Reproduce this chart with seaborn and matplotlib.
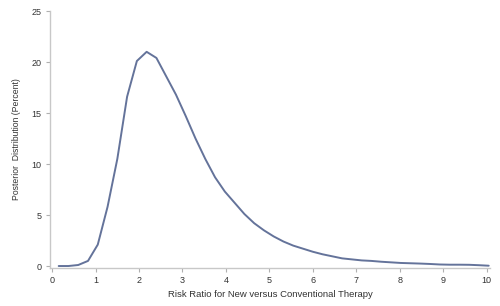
import matplotlib
matplotlib.use("Agg")
import matplotlib.pyplot as plt
import seaborn as sns
import pandas as pd

# posterior distribution of the risk ratio
risk_ratio = [0.15, 0.375, 0.6, 0.825, 1.05, 1.275, 1.5, 1.725, 1.95, 2.175,
              2.4, 2.625, 2.85, 3.075, 3.3, 3.525, 3.75, 3.975, 4.2, 4.425,
              4.65, 4.875, 5.1, 5.325, 5.55, 5.775, 6.0, 6.225, 6.45, 6.675,
              6.9, 7.125, 7.35, 7.575, 7.8, 8.025, 8.25, 8.475, 8.7, 8.925,
              9.15, 9.375, 9.6, 9.825, 10.05]
percent = [0.0, 0.0, 0.1, 0.5, 2.1, 5.8, 10.5, 16.6, 20.1, 21.0,
           20.4, 18.6, 16.8, 14.7, 12.5, 10.5, 8.7, 7.3, 6.2, 5.1,
           4.2, 3.5, 2.9, 2.4, 2.0, 1.7, 1.4, 1.15, 0.95, 0.75,
           0.65, 0.55, 0.5, 0.42, 0.36, 0.3, 0.27, 0.24, 0.2, 0.15,
           0.13, 0.13, 0.12, 0.08, 0.03]
x_ticks = list(range(0, 11))
y_ticks = [0, 5, 10, 15, 20, 25]

df = pd.DataFrame({"rr": risk_ratio, "pct": percent})

sns.set_style("ticks")
plt.rcParams["font.family"] = ["Liberation Sans", "DejaVu Sans"]

fig = plt.figure(figsize=(5.0, 3.06), dpi=100)
ax = fig.add_axes([0.10, 0.124, 0.88, 0.84])

sns.lineplot(data=df, x="rr", y="pct", color="#64739a", linewidth=1.4, ax=ax)

ax.set_xlim(-0.05, 10.08)
ax.set_ylim(-0.2, 25)
ax.set_xticks(x_ticks)
ax.set_yticks(y_ticks)

ax.set_xlabel("Risk Ratio for New versus Conventional Therapy",
              fontsize=6.8, color="#333333", labelpad=3)
ax.set_ylabel("Posterior  Distribution (Percent)", fontsize=6.2,
              color="#333333", labelpad=8)

for side in ["top", "right"]:
    ax.spines[side].set_visible(False)
for side in ["left", "bottom"]:
    ax.spines[side].set_color("#c8c8c8")
    ax.spines[side].set_linewidth(1.0)

ax.tick_params(axis="both", labelsize=6.5, colors="#333333",
               length=3, width=0.8, color="#b0b0b0", pad=3)

fig.savefig("out.png", dpi=100)
